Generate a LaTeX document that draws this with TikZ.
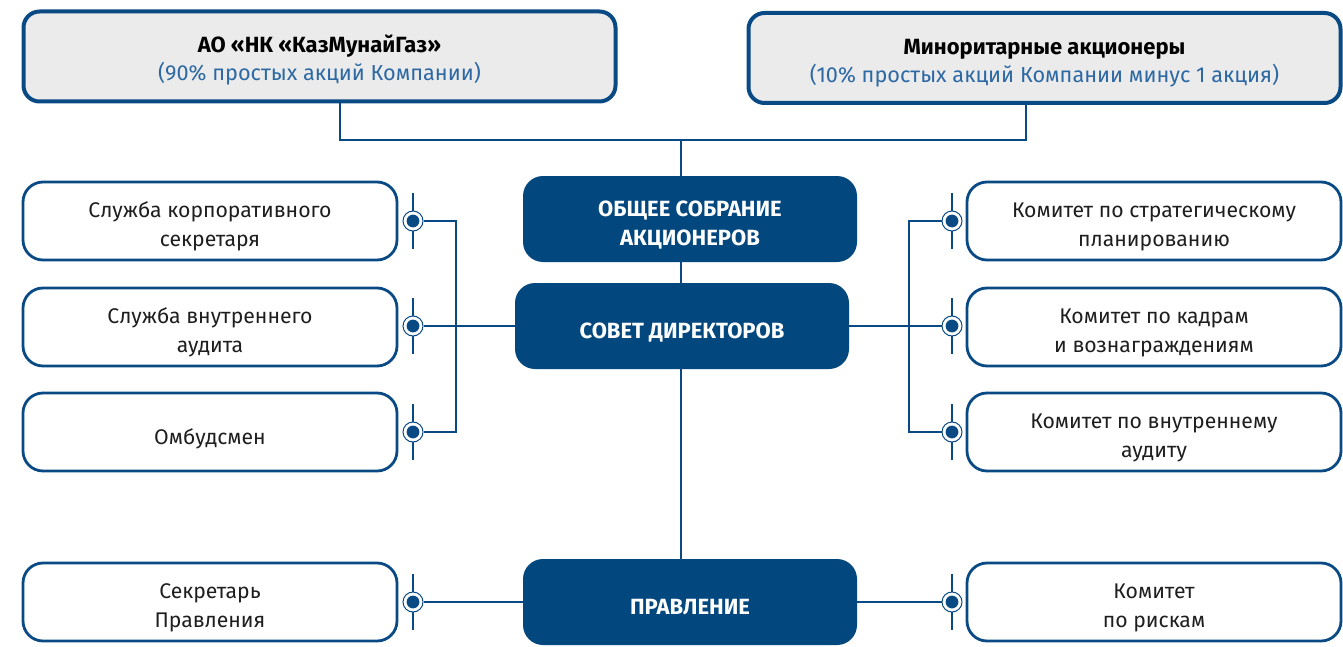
\documentclass[tikz,border=0pt]{standalone}
\usepackage{fontspec}
\setmainfont{Fira Sans}
\usepackage{xcolor}
\usetikzlibrary{positioning, calc}

\definecolor{kmgblue}{HTML}{0A4A84}
\definecolor{kmgdark}{HTML}{03477F}
\definecolor{kmggray}{HTML}{EBEBEB}
\definecolor{subblue}{HTML}{2C68A3}
\definecolor{txtgray}{HTML}{1E1E1E}

\tikzset{
    topbox/.style={draw=kmgblue, line width=2pt, fill=kmggray, rounded corners=8pt,
        minimum width=296pt, minimum height=45pt, align=center, text=black,
        text height=24.5pt, text depth=0pt, font=\fontsize{10.85}{14}\selectfont},
    mainbox/.style={fill=kmgdark, rounded corners=10pt, text=white, align=center,
        minimum width=167pt, minimum height=43pt, text height=12.5pt, text depth=0pt,
        font=\fontsize{11}{14.5}\selectfont\bfseries},
    unitbox/.style={draw=kmgblue, line width=1.4pt, fill=white, rounded corners=10pt,
        minimum width=187pt, minimum height=39pt, align=center, text=txtgray,
        text height=25.5pt, text depth=0pt, font=\fontsize{10.6}{14.5}\selectfont},
    oneliner/.style={text height=12.5pt},
    twoliner/.style={text height=26pt},
    link/.style={draw=kmgblue, line width=1.4pt},
    marker/.style={circle, draw=kmgblue, line width=0.5pt, fill=white,
        minimum size=10pt, inner sep=0pt,
        path picture={\fill[kmgblue] (path picture bounding box.center) circle (3.2pt);}}
}

\begin{document}
\begin{tikzpicture}[%
    x=0.5pt, y=-0.5pt   % 1 unit = 1 pixel of the layout
]
    \useasboundingbox (0,0) rectangle (1343,647);

    % ==========================================
    % 1. Shareholders
    % ==========================================
    \node[topbox] (kmg) at (319.5,56.5)
        {{\fontsize{11}{14}\selectfont\bfseries АО «НК «КазМунайГаз»}\\{\color{subblue}(90\% простых акций Компании)}};
    \node[topbox] (minor) at (1044.5,58)
        {{\fontsize{11}{14}\selectfont\bfseries Миноритарные акционеры}\\{\color{subblue}(10\% простых акций Компании минус 1 акция)}};

    % ==========================================
    % 2. Governing bodies
    % ==========================================
    \node[mainbox, twoliner] (osa) at (690,219) {ОБЩЕЕ СОБРАНИЕ\\АКЦИОНЕРОВ};
    \node[mainbox] (sd) at (682,326) {СОВЕТ ДИРЕКТОРОВ};
    \node[mainbox] (prav) at (690,602) {ПРАВЛЕНИЕ};

    % ==========================================
    % 3. Services and committees
    % ==========================================
    \node[unitbox] (corpsec) at (210,221) {Служба корпоративного\\секретаря};
    \node[unitbox] (audit) at (210,327) {Служба внутреннего\\аудита};
    \node[unitbox, oneliner] (ombud) at (210,432) {Омбудсмен};
    \node[unitbox] (boardsec) at (210,602) {Секретарь\\Правления};

    \node[unitbox] (strat) at (1154,221) {Комитет по стратегическому\\планированию};
    \node[unitbox] (hr) at (1154,327) {Комитет по кадрам\\и вознаграждениям};
    \node[unitbox] (auditcom) at (1154,432) {Комитет по внутреннему\\аудиту};
    \node[unitbox] (risk) at (1154,602) {Комитет\\по рискам};

    % ==========================================
    % 4. Connectors
    % ==========================================
    \coordinate (hub) at (681,140);
    \coordinate (lbus) at (456,326);
    \coordinate (rbus) at (909,326);

    \draw[link] ([xshift=10.25pt]kmg.south) |- (hub) -| ([xshift=-9.25pt]minor.south);
    \draw[link] (hub) -- (hub |- osa.north);
    \draw[link] (hub |- osa.south) -- (hub |- sd.north);
    \draw[link] (hub |- sd.south) -- (hub |- prav.north);

    % markers: bar first, then the ring on top
    \foreach \n/\x/\y in {lm1/413/221, lm2/413/326, lm3/413/432, lm4/413/602,
                          rm1/952/221, rm2/952/326, rm3/952/432, rm4/952/602}{
        \draw[link] (\x,\y-28) -- (\x,\y+28);
        \node[marker] (\n) at (\x,\y) {};
    }

    \draw[link] (lm1) -| (lbus) |- (lm3);
    \draw[link] (lm2) -- (sd.west);
    \draw[link] (rm1) -| (rbus) |- (rm3);
    \draw[link] (sd.east) -- (rm2);
    \draw[link] (lm4) -- (prav.west);
    \draw[link] (prav.east) -- (rm4);

\end{tikzpicture}
\end{document}
